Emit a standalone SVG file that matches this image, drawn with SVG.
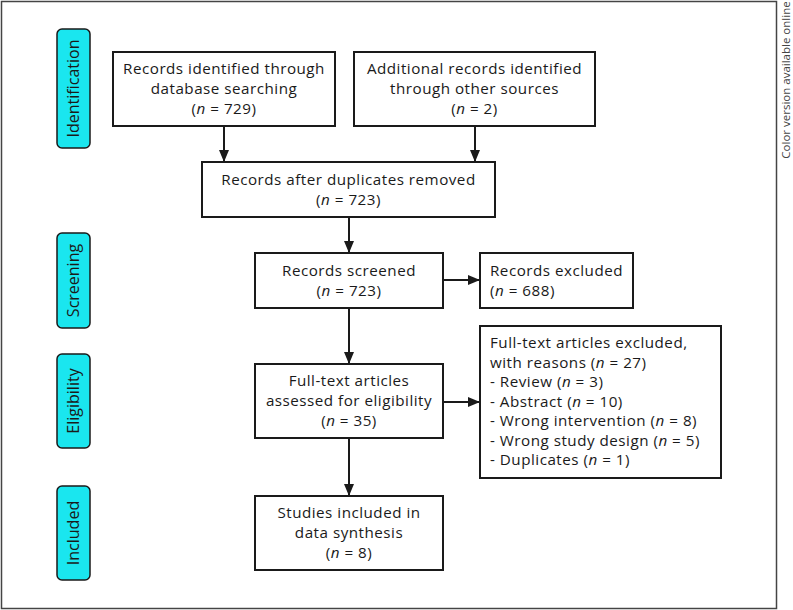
<svg xmlns="http://www.w3.org/2000/svg" width="793" height="610" viewBox="0 0 793 610">
<defs>
<marker id="ah" viewBox="0 0 12 10" refX="12" refY="5" markerWidth="12" markerHeight="10" markerUnits="userSpaceOnUse" orient="auto">
<path d="M0,0 L12,5 L0,10 z" fill="#1a1a1a"/>
</marker>
</defs>
<style>
text{font-family:"Open Sans","Noto Sans","DejaVu Sans",sans-serif;font-size:15.2px;letter-spacing:0.5px;fill:#1a1a1a}
.c{text-anchor:middle}
.box{fill:#fff;stroke:#1a1a1a;stroke-width:2}
.stage{fill:#1ae6ef;stroke:#1a1a1a;stroke-width:1.5}
.st{font-size:16px;letter-spacing:0;text-anchor:middle}
.conn{stroke:#1a1a1a;stroke-width:2;fill:none;marker-end:url(#ah)}
</style>
<rect x="0" y="0" width="793" height="610" fill="#fff"/>
<rect x="1.5" y="1.5" width="775" height="607" fill="none" stroke="#444" stroke-width="1.5"/>
<text transform="translate(790,80) rotate(-90)" class="c" style="font-size:11.5px;letter-spacing:0;fill:#444">Color version available online</text>

<g id="stage-identification"><rect class="stage" x="57" y="29" width="33" height="119" rx="5"/><text class="st" transform="translate(79,88.5) rotate(-90)">Identification</text></g>
<g id="stage-screening"><rect class="stage" x="57" y="233" width="33" height="95" rx="5"/><text class="st" transform="translate(79,280.5) rotate(-90)">Screening</text></g>
<g id="stage-eligibility"><rect class="stage" x="57" y="354" width="33" height="94" rx="5"/><text class="st" transform="translate(79,401) rotate(-90)">Eligibility</text></g>
<g id="stage-included"><rect class="stage" x="57" y="486" width="33" height="94" rx="5"/><text class="st" transform="translate(79,533) rotate(-90)">Included</text></g>

<g id="connectors">
<line class="conn" x1="224" y1="126" x2="224" y2="162"/>
<line class="conn" x1="475" y1="126" x2="475" y2="162"/>
<line class="conn" x1="349" y1="217" x2="349" y2="253"/>
<line class="conn" x1="443" y1="280" x2="480" y2="280"/>
<line class="conn" x1="349" y1="308" x2="349" y2="364"/>
<line class="conn" x1="443" y1="402" x2="480" y2="402"/>
<line class="conn" x1="349" y1="438" x2="349" y2="496"/>
</g>

<g id="n-db"><rect class="box" x="113" y="52" width="222" height="74"/>
<text class="c" x="224" y="74">Records identified through</text>
<text class="c" x="224" y="94">database searching</text>
<text class="c" x="224" y="114">(<tspan font-style="italic">n</tspan> = 729)</text></g>

<g id="n-other"><rect class="box" x="354" y="52" width="241" height="74"/>
<text class="c" x="474.5" y="74">Additional records identified</text>
<text class="c" x="474.5" y="94">through other sources</text>
<text class="c" x="474.5" y="114">(<tspan font-style="italic">n</tspan> = 2)</text></g>

<g id="n-dup"><rect class="box" x="202" y="162" width="293" height="55"/>
<text class="c" x="348.5" y="185">Records after duplicates removed</text>
<text class="c" x="348.5" y="205">(<tspan font-style="italic">n</tspan> = 723)</text></g>

<g id="n-screened"><rect class="box" x="255" y="253" width="188" height="55"/>
<text class="c" x="349" y="276">Records screened</text>
<text class="c" x="349" y="296">(<tspan font-style="italic">n</tspan> = 723)</text></g>

<g id="n-excluded"><rect class="box" x="480" y="253" width="153" height="55"/>
<text x="490" y="276">Records excluded</text>
<text x="490" y="296">(<tspan font-style="italic">n</tspan> = 688)</text></g>

<g id="n-fulltext"><rect class="box" x="255" y="364" width="188" height="74"/>
<text class="c" x="349" y="386">Full-text articles</text>
<text class="c" x="349" y="406">assessed for eligibility</text>
<text class="c" x="349" y="426">(<tspan font-style="italic">n</tspan> = 35)</text></g>

<g id="n-ftexcluded"><rect class="box" x="480" y="326" width="241" height="152"/>
<text x="490" y="348">Full-text articles excluded,</text>
<text x="490" y="367.5">with reasons (<tspan font-style="italic">n</tspan> = 27)</text>
<text x="490" y="387">- Review (<tspan font-style="italic">n</tspan> = 3)</text>
<text x="490" y="406.5">- Abstract (<tspan font-style="italic">n</tspan> = 10)</text>
<text x="490" y="426">- Wrong intervention (<tspan font-style="italic">n</tspan> = 8)</text>
<text x="490" y="445.5">- Wrong study design (<tspan font-style="italic">n</tspan> = 5)</text>
<text x="490" y="465">- Duplicates (<tspan font-style="italic">n</tspan> = 1)</text></g>

<g id="n-included"><rect class="box" x="255" y="496" width="188" height="74"/>
<text class="c" x="349" y="518">Studies included in</text>
<text class="c" x="349" y="538">data synthesis</text>
<text class="c" x="349" y="558">(<tspan font-style="italic">n</tspan> = 8)</text></g>
</svg>
